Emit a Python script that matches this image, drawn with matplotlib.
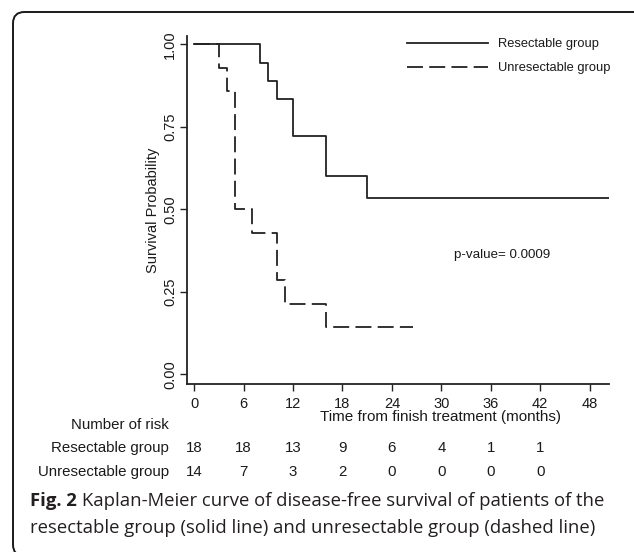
import matplotlib
matplotlib.use("Agg")
import matplotlib.pyplot as plt
from matplotlib.patches import FancyBboxPatch
from matplotlib.transforms import blended_transform_factory

# ---------------- data ----------------
res_times = [0, 8, 9, 10, 12, 16, 21, 50.4]
res_surv = [1.0, 0.944, 0.889, 0.833, 0.722, 0.602, 0.535, 0.535]
unres_times = [0, 3, 4, 5, 7, 10, 11, 16, 26.6]
unres_surv = [1.0, 0.929, 0.857, 0.5, 0.429, 0.286, 0.214, 0.143, 0.143]

x_ticks = [0, 6, 12, 18, 24, 30, 36, 42, 48]
y_ticks = [0.0, 0.25, 0.5, 0.75, 1.0]
y_ticklabels = ["0.00", "0.25", "0.50", "0.75", "1.00"]

risk_times = [0, 6, 12, 18, 24, 30, 36, 42]
risk_res = [18, 18, 13, 9, 6, 4, 1, 1]
risk_unres = [14, 7, 3, 2, 0, 0, 0, 0]

series_labels = ["Resectable group", "Unresectable group"]
p_text = "p-value= 0.0009"
caption_bold = "Fig. 2"
caption_line1 = "Kaplan-Meier curve of disease-free survival of patients of the"
caption_line2 = "resectable group (solid line) and unresectable group (dashed line)"

# ---------------- figure ----------------
W, H = 634, 552
DPI = 100
plt.rcParams['font.family'] = ['Liberation Sans', 'DejaVu Sans']
plt.rcParams['lines.scale_dashes'] = False
fig = plt.figure(figsize=(W / DPI, H / DPI), dpi=DPI)
fig.patch.set_facecolor("white")

def px_x(x):
    return x / W

def px_y(y):
    return 1 - y / H

ax_l, ax_r, ax_t, ax_b = 186.7, 609.3, 35.7, 384.3
ax = fig.add_axes([px_x(ax_l), px_y(ax_b), (ax_r - ax_l) / W, (ax_b - ax_t) / H])

ink = "#222222"
txt = "#1a1a1a"
ax.step(res_times, res_surv, where="post", color=ink, lw=1.3,
        label=series_labels[0])
ax.step(unres_times, unres_surv, where="post", color=ink, lw=1.3,
        dashes=(11.5, 4.5), label=series_labels[1])

ax.set_xlim(-0.92, 50.4)
ax.set_ylim(-0.0303, 1.026)
ax.set_xticks(x_ticks)
ax.set_xticklabels([str(t) for t in x_ticks])
ax.set_yticks(y_ticks)
ax.set_yticklabels(y_ticklabels, rotation=90, va="center")
for s in ["top", "right"]:
    ax.spines[s].set_visible(False)
for s in ["left", "bottom"]:
    ax.spines[s].set_color(ink)
    ax.spines[s].set_linewidth(1.3)
ax.tick_params(axis="x", length=5, width=1.0, color=ink, labelsize=10.5,
               pad=4, labelcolor=txt)
ax.tick_params(axis="y", length=5, width=1.0, color=ink, labelsize=10.5,
               pad=2, labelcolor=txt)

ax.set_ylabel("Survival Probability", fontsize=10.5, color=txt, labelpad=2)

# x label placed below ticks, offset right like the original
fig.text(px_x(441), px_y(417), "Time from finish treatment (months)",
         fontsize=11, ha="center", va="center", color=txt)

leg = ax.legend(loc="upper left", bbox_to_anchor=(px_x(407), px_y(38)),
                bbox_transform=fig.transFigure, frameon=False, fontsize=9.3,
                handlelength=6.3, handletextpad=0.78, labelspacing=0.95,
                borderpad=0, borderaxespad=0)
for t in leg.get_texts():
    t.set_color(txt)

fig.text(px_x(454), px_y(255), p_text, fontsize=9.6, ha="left", va="center",
         color=txt)

# ---------------- number at risk table ----------------
bt = blended_transform_factory(ax.transData, fig.transFigure)
fig.text(px_x(169), px_y(425), "Number of risk", fontsize=10.8, ha="right",
         va="center", color=txt)
fig.text(px_x(169), px_y(448), series_labels[0], fontsize=10.8, ha="right",
         va="center", color=txt)
fig.text(px_x(169), px_y(472), series_labels[1], fontsize=10.8, ha="right",
         va="center", color=txt)
for t, n in zip(risk_times, risk_res):
    ax.text(t, px_y(448), str(n), fontsize=10.8, ha="center", va="center",
            color=txt, transform=bt, clip_on=False)
for t, n in zip(risk_times, risk_unres):
    ax.text(t, px_y(472), str(n), fontsize=10.8, ha="center", va="center",
            color=txt, transform=bt, clip_on=False)

# ---------------- caption ----------------
cap_color = "#231f20"
cap_fs = 13.3
cap_fam = ["Open Sans", "DejaVu Sans"]
fb = fig.text(px_x(30), px_y(501), caption_bold, fontsize=cap_fs,
              fontweight="bold", family=cap_fam,
              ha="left", va="center", color=cap_color)
fig.canvas.draw()
bb = fb.get_window_extent(renderer=fig.canvas.get_renderer())
fig.text(px_x(bb.x1 + 5), px_y(501), caption_line1, fontsize=cap_fs,
         family=cap_fam, ha="left", va="center", color=cap_color)
fig.text(px_x(30), px_y(528), caption_line2, fontsize=cap_fs,
         family=cap_fam, ha="left", va="center", color=cap_color)

# ---------------- rounded border ----------------
box = FancyBboxPatch((px_x(13), px_y(556)), px_x(660) - px_x(13),
                     px_y(12) - px_y(556),
                     boxstyle="round,pad=0,rounding_size=0.018",
                     transform=fig.transFigure, fill=False,
                     edgecolor=txt, linewidth=1.4, mutation_aspect=W / H)
fig.add_artist(box)

fig.savefig("out.png", dpi=DPI, facecolor="white")
